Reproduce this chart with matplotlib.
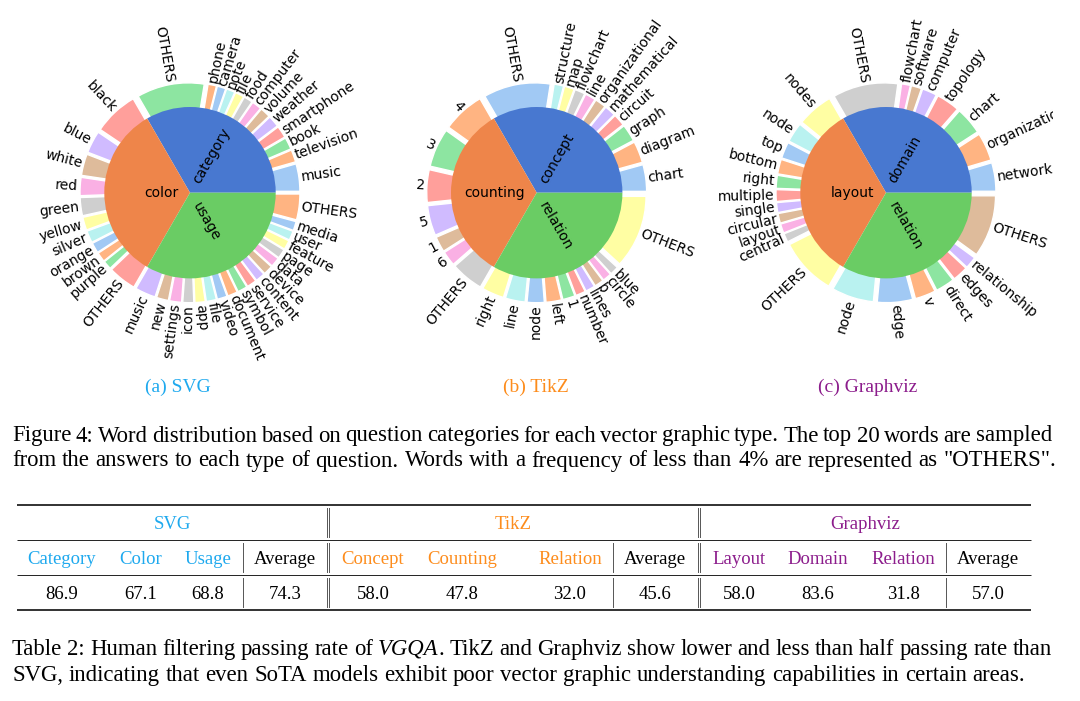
import numpy as np
import matplotlib
matplotlib.use("Agg")
import matplotlib.pyplot as plt
import seaborn as sns

W, H = 1080, 701
MUTED = sns.color_palette("muted")
PASTEL = sns.color_palette("pastel")
SERIF = ["Liberation Serif", "DejaVu Serif"]
C_SVG, C_TIKZ, C_GV = "#1ea9ee", "#fd8c1c", "#8c1d8c"

# ---- word shares (% of answers inside each question type) ----
SVG_TYPES = ["category", "color", "usage"]
SVG_CATEGORY = ["music", "television", "book", "smartphone", "weather", "volume",
                "computer", "food", "file", "note", "camera", "phone", "OTHERS"]
SVG_CATEGORY_PCT = [13.3, 6.0, 5.8, 5.8, 5.6, 5.0, 4.7, 4.3, 4.3, 4.2, 4.2, 4.1, 32.7]
SVG_COLOR = ["black", "blue", "white", "red", "green", "yellow", "silver",
             "orange", "brown", "purple", "OTHERS"]
SVG_COLOR_PCT = [21.7, 10.8, 10.4, 8.8, 8.8, 6.3, 5.8, 5.0, 4.6, 4.2, 13.6]
SVG_USAGE = ["music", "new", "settings", "icon", "app", "file", "video", "document",
             "symbol", "service", "content", "device", "data", "page", "feature",
             "user", "media", "OTHERS"]
SVG_USAGE_PCT = [10.0, 5.8, 5.8, 5.3, 5.0, 4.9, 4.8, 4.8, 4.7, 4.7, 4.6, 4.6, 4.6,
                 4.5, 4.5, 4.5, 4.4, 12.5]

TIKZ_TYPES = ["concept", "counting", "relation"]
TIKZ_CONCEPT = ["chart", "diagram", "graph", "circuit", "mathematical", "organizational",
                "line", "flowchart", "map", "structure", "OTHERS"]
TIKZ_CONCEPT_PCT = [12.9, 10.4, 8.3, 5.8, 5.4, 5.3, 5.1, 5.0, 4.8, 4.6, 32.4]
TIKZ_COUNTING = ["4", "3", "2", "5", "1", "6", "OTHERS"]
TIKZ_COUNTING_PCT = [20.4, 18.8, 15.8, 14.6, 7.5, 7.1, 15.8]
TIKZ_RELATION = ["right", "line", "node", "left", "1", "number", "lines", "b",
                 "circle", "blue", "OTHERS"]
TIKZ_RELATION_PCT = [10.8, 9.6, 8.3, 7.5, 6.0, 4.8, 4.6, 4.4, 4.3, 4.2, 35.5]

GV_TYPES = ["domain", "layout", "relation"]
GV_DOMAIN = ["network", "organizational", "chart", "topology", "computer",
             "software", "flowchart", "OTHERS"]
GV_DOMAIN_PCT = [13.8, 13.6, 13.3, 11.3, 7.1, 5.0, 4.3, 31.6]
GV_LAYOUT = ["nodes", "node", "top", "bottom", "right", "multiple", "single",
             "circular", "layout", "central", "OTHERS"]
GV_LAYOUT_PCT = [17.5, 9.6, 7.9, 7.1, 6.3, 5.7, 4.8, 4.7, 4.5, 4.2, 27.7]
GV_RELATION = ["node", "edge", "v", "direct", "edges", "relationship", "OTHERS"]
GV_RELATION_PCT = [20.4, 17.1, 10.0, 9.2, 7.5, 5.8, 30.0]

# ---- Table 2: human filtering passing rate ----
TAB_GROUPS = ["SVG", "TikZ", "Graphviz"]
TAB_COLS = [["Category", "Color", "Usage"], ["Concept", "Counting", "Relation"],
            ["Layout", "Domain", "Relation"]]
TAB_RATE = [[86.9, 67.1, 68.8], [58.0, 47.8, 32.0], [58.0, 83.6, 31.8]]
TAB_AVG = [74.3, 45.6, 57.0]

fig = plt.figure(figsize=(W / 100, H / 100), dpi=100)
bg = fig.add_axes([0, 0, 1, 1])
bg.set_xlim(0, W); bg.set_ylim(H, 0); bg.axis("off")

R_PIE, R_RING, RING_W, EXPL = 85.7, 100.0, 27.0, 10.0


def sunburst(box, center, types, words, pcts):
    x0, y0, x1, y1 = box
    cx, cy = center
    ax = fig.add_axes([x0 / W, 1 - y1 / H, (x1 - x0) / W, (y1 - y0) / H])
    vals, labels = [], []
    for w, p in zip(words, pcts):
        p = np.asarray(p, float)
        vals.extend(p / p.sum() / len(types))
        labels.extend(w)
    cols = [PASTEL[i % len(PASTEL)] for i in range(len(vals))]
    ring, _ = ax.pie(vals, radius=R_RING, colors=cols, explode=[EXPL] * len(vals),
                     startangle=0, counterclock=True,
                     wedgeprops=dict(width=RING_W, edgecolor="white", linewidth=1.0))
    inner, _ = ax.pie([1] * len(types), radius=R_PIE, colors=MUTED[:len(types)],
                      startangle=0, counterclock=True, wedgeprops=dict(linewidth=0))
    for wedges, labs, dist in [(ring, labels, R_RING + EXPL + 2), (inner, types, 12)]:
        for wd, lab in zip(wedges, labs):
            th = np.deg2rad((wd.theta1 + wd.theta2) / 2)
            c, s = np.cos(th), np.sin(th)
            right = c > 0
            rot = np.rad2deg(th) + (0 if right else 180)
            ax.text(dist * c, dist * s, lab, rotation=rot, rotation_mode="anchor",
                    ha="left" if right else "right", va="center", fontsize=10,
                    clip_on=True)
    ax.set_xlim(x0 - cx, x1 - cx); ax.set_ylim(cy - y1, cy - y0)
    ax.set_aspect("auto")
    ax.axis("off")


# boxes mimic the edges of the three sub-images (labels get cut there)
sunburst((20, 8, 357, 372), (190, 192.7), SVG_TYPES,
         [SVG_CATEGORY, SVG_COLOR, SVG_USAGE],
         [SVG_CATEGORY_PCT, SVG_COLOR_PCT, SVG_USAGE_PCT])
sunburst((395, 17, 705, 372), (536.7, 192.7), TIKZ_TYPES,
         [TIKZ_CONCEPT, TIKZ_COUNTING, TIKZ_RELATION],
         [TIKZ_CONCEPT_PCT, TIKZ_COUNTING_PCT, TIKZ_RELATION_PCT])
sunburst((719, 8, 1053, 372), (886, 192.7), GV_TYPES,
         [GV_DOMAIN, GV_LAYOUT, GV_RELATION],
         [GV_DOMAIN_PCT, GV_LAYOUT_PCT, GV_RELATION_PCT])

for x, txt, col in [(178, "(a) SVG", C_SVG), (536, "(b) TikZ", C_TIKZ),
                    (868, "(c) Graphviz", C_GV)]:
    bg.text(x, 391.5, txt, fontsize=14, family=SERIF, color=col,
            ha="center", va="baseline")

# ---- captions, set word by word so full lines can be justified ----
rend = fig.canvas.get_renderer()


def width(txt, size, style="normal"):
    t = bg.text(0, 0, txt, fontsize=size, family=SERIF, style=style)
    w = t.get_window_extent(rend).width
    t.remove()
    return w


CAP = 10 * 1013 / width("SVG, indicating that even SoTA models exhibit poor vector "
                        "graphic understanding capabilities in certain areas.", 10)


def put_line(line, x0, y, size, x1=None):
    words = []
    for w in line.split(" "):
        if w.startswith("*"):
            it, rest = w[1:].split("*", 1)
            words.append([(it, "italic")] + ([(rest, "normal")] if rest else []))
        else:
            words.append([(w, "normal")])
    placed = []
    for word in words:
        ts = []
        for txt, st in word:
            t = bg.text(0, y, txt, fontsize=size, family=SERIF, style=st,
                        ha="left", va="baseline")
            ts.append((t, t.get_window_extent(rend).width))
        placed.append(ts)
    wsum = [sum(w for _, w in ts) for ts in placed]
    gap = width("a a", size) - width("aa", size)
    if x1 is not None:
        gap = (x1 - x0 - sum(wsum)) / (len(placed) - 1)
    x = x0
    for ts in placed:
        for t, w in ts:
            t.set_x(x)
            x += w
        x += gap


put_line("Figure 4: Word distribution based on question categories for each vector "
         "graphic type. The top 20 words are sampled", 12, 441.5, CAP, 1052)
put_line("from the answers to each type of question. Words with a frequency of less "
         "than 4% are represented as \"OTHERS\".", 12, 466.5, CAP)
put_line("Table 2: Human filtering passing rate of *VGQA*. TikZ and Graphviz show lower "
         "and less than half passing rate than", 12, 655, CAP, 1052)
put_line("SVG, indicating that even SoTA models exhibit poor vector graphic "
         "understanding capabilities in certain areas.", 12, 681, CAP)

# ---- table ----
TX0, TX1 = 17, 1031
for y, lw in [(505, 1.3), (540, 0.7), (575, 0.7), (610, 1.3)]:
    bg.plot([TX0, TX1], [y, y], color="#222222", lw=lw, solid_capstyle="butt")
group_span = [(17, 328), (328, 699), (699, 1031)]
col_x = [[62, 141, 208, 285], [373, 462, 570, 655], [739, 818, 903, 988]]
single_x = [243, 613, 946]
rows = [(508, 537), (543, 572), (578, 607)]
TS = 13.5
for g, (name, col) in enumerate(zip(TAB_GROUPS, [C_SVG, C_TIKZ, C_GV])):
    a, b = group_span[g]
    bg.text((a + b) / 2, 529.3, name, fontsize=TS, family=SERIF, color=col,
            ha="center", va="baseline")
    heads = TAB_COLS[g] + ["Average"]
    vals = TAB_RATE[g] + [TAB_AVG[g]]
    for k, (hd, v) in enumerate(zip(heads, vals)):
        bg.text(col_x[g][k], 564, hd, fontsize=TS, family=SERIF,
                color=col if k < 3 else "black", ha="center", va="baseline")
        bg.text(col_x[g][k], 599.3, f"{v:.1f}", fontsize=TS, family=SERIF,
                ha="center", va="baseline")
    for r0, r1 in rows[1:]:
        bg.plot([single_x[g]] * 2, [r0, r1], color="#555555", lw=0.7)
for xd in [328, 699]:
    for r0, r1 in rows:
        for dx in (-1.3, 1.3):
            bg.plot([xd + dx] * 2, [r0, r1], color="#555555", lw=0.7)

fig.savefig("out.png", dpi=100)
